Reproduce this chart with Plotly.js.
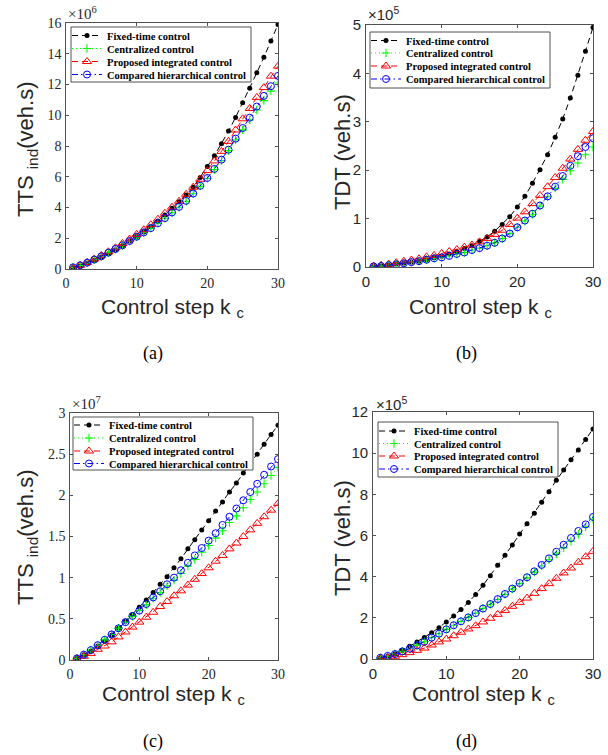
<!DOCTYPE html>
<html>
<head>
<meta charset="utf-8">
<script src="https://cdn.plot.ly/plotly-3.0.1.min.js"></script>
<style>html,body{margin:0;padding:0;background:#fff}</style>
</head>
<body>
<div id="chart" style="width:608px;height:755px"></div>
<script>
// Control steps shared by every panel
const steps = [1,2,3,4,5,6,7,8,9,10,11,12,13,14,15,16,17,18,19,20,21,22,23,24,25,26,27,28,29,30];

const seriesNames = ['Fixed-time control', 'Centralized control', 'Proposed integrated control', 'Compared hierarchical control'];

// (a) TTS_ind, units of 1e6 veh.s
const fixedA   = [0.09,0.20,0.38,0.57,0.78,1.00,1.25,1.52,1.82,2.11,2.41,2.75,3.13,3.52,3.95,4.37,4.82,5.32,5.95,6.66,7.37,8.15,8.97,9.86,10.81,11.76,12.76,13.77,14.83,15.90];
const centralA = [0.10,0.23,0.40,0.60,0.81,1.05,1.29,1.53,1.81,2.09,2.37,2.65,2.97,3.30,3.66,4.02,4.41,4.89,5.39,5.89,6.47,7.05,7.70,8.40,9.05,9.70,10.34,10.95,11.57,12.10];
const propA    = [0.06,0.24,0.43,0.65,0.89,1.12,1.38,1.66,1.95,2.25,2.55,2.88,3.24,3.63,4.02,4.41,4.86,5.32,5.84,6.40,7.03,7.65,8.30,9.04,9.77,10.44,11.16,11.80,12.54,13.19];
const compA    = [0.11,0.24,0.41,0.61,0.82,1.06,1.30,1.54,1.82,2.10,2.38,2.66,2.98,3.31,3.68,4.04,4.43,4.91,5.41,5.92,6.51,7.11,7.76,8.48,9.17,9.84,10.57,11.26,11.89,12.56];

// (b) TDT, units of 1e5 veh.s
const fixedB   = [0.01,0.02,0.035,0.06,0.08,0.10,0.12,0.15,0.19,0.22,0.27,0.32,0.38,0.44,0.53,0.62,0.74,0.88,1.04,1.24,1.46,1.73,2.01,2.32,2.68,3.06,3.49,3.96,4.46,4.95];
const centralB = [0.014,0.02,0.035,0.055,0.076,0.10,0.12,0.15,0.18,0.20,0.23,0.27,0.30,0.35,0.39,0.44,0.50,0.59,0.69,0.82,0.95,1.09,1.26,1.45,1.63,1.81,1.99,2.15,2.32,2.48];
const propB    = [0.015,0.035,0.06,0.09,0.12,0.145,0.17,0.21,0.24,0.28,0.32,0.36,0.41,0.455,0.52,0.59,0.67,0.76,0.88,1.01,1.14,1.31,1.48,1.66,1.85,2.04,2.23,2.43,2.62,2.80];
const compB    = [0.014,0.02,0.035,0.055,0.076,0.10,0.12,0.15,0.18,0.20,0.23,0.27,0.30,0.35,0.39,0.44,0.50,0.59,0.69,0.82,0.96,1.10,1.27,1.46,1.66,1.88,2.09,2.29,2.48,2.66];

// (c) TTS_ind, units of 1e7 veh.s
const fixedC   = [0.02,0.065,0.11,0.17,0.23,0.30,0.385,0.47,0.55,0.64,0.73,0.82,0.92,1.01,1.12,1.23,1.35,1.46,1.58,1.69,1.81,1.92,2.04,2.15,2.27,2.38,2.50,2.62,2.74,2.85];
const centralC = [0.02,0.065,0.12,0.18,0.245,0.31,0.385,0.46,0.53,0.60,0.67,0.75,0.82,0.90,0.97,1.05,1.14,1.22,1.31,1.39,1.48,1.57,1.67,1.75,1.85,1.95,2.04,2.14,2.24,2.34];
const propC    = [0.016,0.045,0.08,0.13,0.17,0.22,0.28,0.34,0.40,0.46,0.52,0.58,0.65,0.71,0.78,0.84,0.91,0.98,1.05,1.12,1.20,1.27,1.35,1.42,1.50,1.58,1.66,1.74,1.82,1.90];
const compC    = [0.02,0.065,0.12,0.18,0.245,0.31,0.385,0.46,0.535,0.60,0.68,0.76,0.835,0.92,1.00,1.09,1.18,1.27,1.36,1.45,1.54,1.64,1.74,1.84,1.94,2.04,2.14,2.25,2.35,2.44];

// (d) TDT, units of 1e5 veh.s
const fixedD   = [0.05,0.13,0.26,0.42,0.62,0.83,1.04,1.28,1.52,1.80,2.09,2.40,2.75,3.13,3.58,4.05,4.55,5.04,5.54,6.07,6.57,7.08,7.61,8.13,8.68,9.18,9.68,10.15,10.66,11.17];
const centralD = [0.06,0.15,0.24,0.37,0.50,0.66,0.84,1.04,1.23,1.44,1.64,1.83,2.02,2.23,2.45,2.66,2.89,3.14,3.40,3.66,3.94,4.22,4.52,4.82,5.10,5.40,5.72,6.06,6.42,6.80];
const propD    = [0.02,0.065,0.13,0.21,0.31,0.42,0.53,0.68,0.83,0.97,1.13,1.30,1.46,1.62,1.80,1.98,2.17,2.36,2.56,2.75,2.96,3.19,3.42,3.66,3.92,4.18,4.42,4.70,4.97,5.23];
const compD    = [0.06,0.15,0.24,0.37,0.50,0.66,0.84,1.04,1.23,1.44,1.64,1.83,2.02,2.23,2.45,2.67,2.91,3.16,3.42,3.69,3.97,4.26,4.57,4.89,5.21,5.55,5.88,6.22,6.54,6.90];

const W = 608, H = 755;
const px = x => x / W;
const py = y => 1 - y / H;

const SERIF = 'Liberation Serif, Times New Roman, serif';
const SANS = 'Liberation Sans, Arial, Helvetica, sans-serif';
const AXIS_GREY = '#262626';

// Line / marker look of each strategy
const seriesStyles = [
  {line: {color: '#000000', width: 1, dash: '6px,4px'},
   marker: {symbol: 'circle', size: 5, color: '#000000'}},
  {line: {color: '#00ff00', width: 1, dash: '1px,3px'},
   marker: {symbol: 'cross-thin-open', size: 6, color: '#00ff00', line: {color: '#00ff00', width: 1.1}}},
  {line: {color: '#ff0000', width: 1, dash: '6px,4px'},
   marker: {symbol: 'triangle-up-open', size: 8, color: '#ff0000', line: {color: '#ff0000', width: 1}}},
  {line: {color: '#0000ff', width: 1, dash: '6px,3px,1.5px,3px'},
   marker: {symbol: 'circle-open', size: 7, color: '#0000ff', line: {color: '#0000ff', width: 1}}}
];

// Panel geometry in page pixels: box = [left, top, right, bottom]
const panels = [
  {data: [fixedA, centralA, propA, compA], box: [66, 23, 278, 269], yMax: 16, dtick: 2, tickFamily: SERIF, tickSize: 14,
   exp: '\u00d710<sup>6</sup>', expFamily: SERIF, expPos: [66, 13], ylabel: 'TTS <sub>ind</sub>(veh.s)', ylabelPos: [27, 150],
   xlabelPos: [172, 308], caption: '(a)', capPos: [153, 353], legendBox: [71, 27, 251, 82], rows: [35.5, 48.5, 61.5, 74.5]},
  {data: [fixedB, centralB, propB, compB], box: [366, 25, 593, 267], yMax: 5, dtick: 1, tickFamily: SANS, tickSize: 15,
   exp: '\u00d710<sup>5</sup>', expFamily: SANS, expPos: [366, 13], ylabel: 'TDT (veh.s)', ylabelPos: [342, 152],
   xlabelPos: [480, 308], caption: '(b)', capPos: [466, 353], legendBox: [370, 32, 550, 88], rows: [40.5, 53, 66, 79]},
  {data: [fixedC, centralC, propC, compC], box: [70, 413, 278, 660], yMax: 3, dtick: 0.5, tickFamily: SERIF, tickSize: 14,
   exp: '\u00d710<sup>7</sup>', expFamily: SERIF, expPos: [70, 403], ylabel: 'TTS <sub>ind</sub>(veh.s)', ylabelPos: [27, 538],
   xlabelPos: [174, 695], caption: '(c)', capPos: [153, 741], legendBox: [73, 417, 253, 470], rows: [425, 438, 451, 463.5]},
  {data: [fixedD, centralD, propD, compD], box: [373, 412, 593, 659], yMax: 12, dtick: 2, tickFamily: SANS, tickSize: 15,
   exp: '\u00d710<sup>5</sup>', expFamily: SANS, expPos: [374, 403], ylabel: 'TDT (veh.s)', ylabelPos: [342, 538],
   xlabelPos: [483, 695], caption: '(d)', capPos: [466, 741], legendBox: [378, 422, 558, 477], rows: [431, 443.5, 456, 469]}
];

const traces = [];
const layout = {
  width: W, height: H,
  margin: {l: 0, r: 0, t: 0, b: 0},
  paper_bgcolor: '#ffffff', plot_bgcolor: '#ffffff',
  showlegend: true,
  annotations: [], shapes: []
};

panels.forEach((p, i) => {
  const n = i === 0 ? '' : String(i + 1);
  const [l, t, r, b] = p.box;
  const tickFont = {family: p.tickFamily, size: p.tickSize, color: AXIS_GREY};
  const axisCommon = {
    showline: true, linecolor: AXIS_GREY, linewidth: 0.8, mirror: 'ticks',
    ticks: 'inside', ticklen: 3, tickwidth: 0.8, tickcolor: AXIS_GREY,
    showgrid: false, zeroline: false, fixedrange: true, tickfont: tickFont
  };
  layout['xaxis' + n] = Object.assign({}, axisCommon, {
    domain: [px(l), px(r)], range: [0, 30], tick0: 0, dtick: 10, anchor: 'y' + n, ticklabelstandoff: 1
  });
  layout['yaxis' + n] = Object.assign({}, axisCommon, {
    domain: [py(b), py(t)], range: [0, p.yMax], tick0: 0, dtick: p.dtick, anchor: 'x' + n, ticklabelstandoff: 1
  });

  // legend frame (opaque, like a boxed legend)
  const [bl, bt, br, bb] = p.legendBox;
  layout.shapes.push({
    type: 'rect', xref: 'paper', yref: 'paper', layer: 'above',
    x0: px(bl), x1: px(br), y0: py(bb), y1: py(bt),
    line: {color: AXIS_GREY, width: 0.8}, fillcolor: '#ffffff'
  });

  p.data.forEach((vals, s) => {
    const idx = i * 4 + s;
    const legendId = idx === 0 ? 'legend' : 'legend' + (idx + 1);
    layout[legendId] = {
      x: px(bl - 4), xanchor: 'left', y: py(p.rows[s]), yanchor: 'middle',
      bgcolor: 'rgba(0,0,0,0)', borderwidth: 0,
      font: {family: SERIF, size: 10.5, color: '#000000', weight: 'bold'}
    };
    traces.push(Object.assign({
      x: steps, y: vals, name: seriesNames[s],
      xaxis: 'x' + n, yaxis: 'y' + n, legend: legendId,
      mode: 'lines+markers', showlegend: true, hoverinfo: 'skip'
    }, JSON.parse(JSON.stringify(seriesStyles[s]))));
  });

  // axis multiplier, labels, caption
  layout.annotations.push(
    {text: p.exp, xref: 'paper', yref: 'paper', x: px(p.expPos[0]), y: py(p.expPos[1]),
     xanchor: 'left', yanchor: 'middle', showarrow: false,
     font: {family: p.expFamily, size: 15, color: AXIS_GREY}},
    {text: p.ylabel, xref: 'paper', yref: 'paper', x: px(p.ylabelPos[0]), y: py(p.ylabelPos[1]),
     xanchor: 'center', yanchor: 'middle', textangle: -90, showarrow: false,
     font: {family: SANS, size: 22, color: AXIS_GREY}},
    {text: 'Control step k <sub>c</sub>', xref: 'paper', yref: 'paper', x: px(p.xlabelPos[0]), y: py(p.xlabelPos[1]),
     xanchor: 'center', yanchor: 'middle', showarrow: false,
     font: {family: SANS, size: 21, color: AXIS_GREY}},
    {text: p.caption, xref: 'paper', yref: 'paper', x: px(p.capPos[0]), y: py(p.capPos[1]),
     xanchor: 'center', yanchor: 'middle', showarrow: false,
     font: {family: SERIF, size: 18, color: '#000000'}}
  );
});

Plotly.newPlot('chart', traces, layout, {displayModeBar: false, staticPlot: true});
</script>
</body>
</html>
